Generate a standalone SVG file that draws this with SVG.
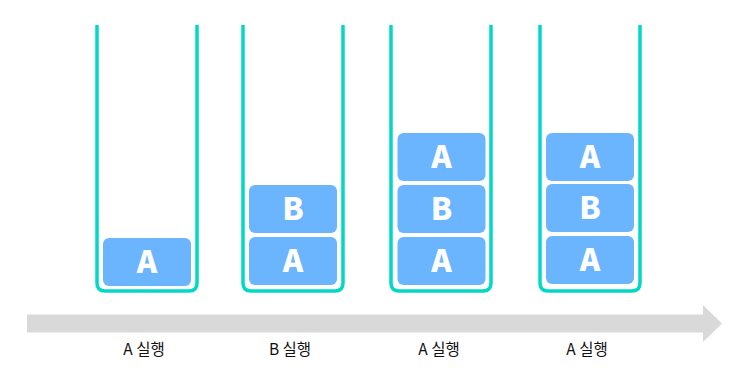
<svg xmlns="http://www.w3.org/2000/svg" width="749" height="380" viewBox="0 0 749 380">
<style>
.cup{fill:none;stroke:#00d9c6;stroke-width:3.5;stroke-linejoin:round}
.box{fill:#6bb5ff}
.bt{fill:#fff;font-family:"Noto Sans CJK KR","Noto Sans",sans-serif;font-weight:900;font-size:31px;text-anchor:middle}
.lb{fill:#111;font-family:"Noto Sans CJK KR","Noto Sans",sans-serif;font-weight:400;font-size:15.5px;text-anchor:middle}
</style>
<rect width="749" height="380" fill="#fff"/>
<g id="timeline">
<polygon points="27,314.5 703,314.5 703,305 722,323.5 703,342 703,332.5 27,332.5" fill="#d9d9d9"/>
</g>
<g id="stack1">
<path class="cup" d="M97,25 V283 Q97,291 105,291 H189 Q197,291 197,283 V25"/>
<rect class="box" x="103" y="238" width="88" height="48" rx="6"/>
<text class="bt" x="147" y="273">A</text>
<text class="lb" x="144" y="355">A 실행</text>
</g>
<g id="stack2">
<path class="cup" d="M243,25 V283 Q243,291 251,291 H335 Q343,291 343,283 V25"/>
<rect class="box" x="249" y="185" width="88" height="48" rx="6"/>
<text class="bt" x="293" y="220">B</text>
<rect class="box" x="249" y="237" width="88" height="48" rx="6"/>
<text class="bt" x="293" y="272">A</text>
<text class="lb" x="290" y="355">B 실행</text>
</g>
<g id="stack3">
<path class="cup" d="M391,25 V283 Q391,291 399,291 H483 Q491,291 491,283 V25"/>
<rect class="box" x="397.5" y="133" width="88" height="48" rx="6"/>
<text class="bt" x="441.5" y="168">A</text>
<rect class="box" x="397.5" y="185" width="88" height="48" rx="6"/>
<text class="bt" x="441.5" y="220">B</text>
<rect class="box" x="397.5" y="237" width="88" height="48" rx="6"/>
<text class="bt" x="441.5" y="272">A</text>
<text class="lb" x="439" y="355">A 실행</text>
</g>
<g id="stack4">
<path class="cup" d="M540,25 V283 Q540,291 548,291 H632 Q640,291 640,283 V25"/>
<rect class="box" x="546" y="133" width="88" height="48" rx="6"/>
<text class="bt" x="590" y="168">A</text>
<rect class="box" x="546" y="184" width="88" height="48" rx="6"/>
<text class="bt" x="590" y="219">B</text>
<rect class="box" x="546" y="236" width="88" height="48" rx="6"/>
<text class="bt" x="590" y="271">A</text>
<text class="lb" x="587" y="355">A 실행</text>
</g>
</svg>
